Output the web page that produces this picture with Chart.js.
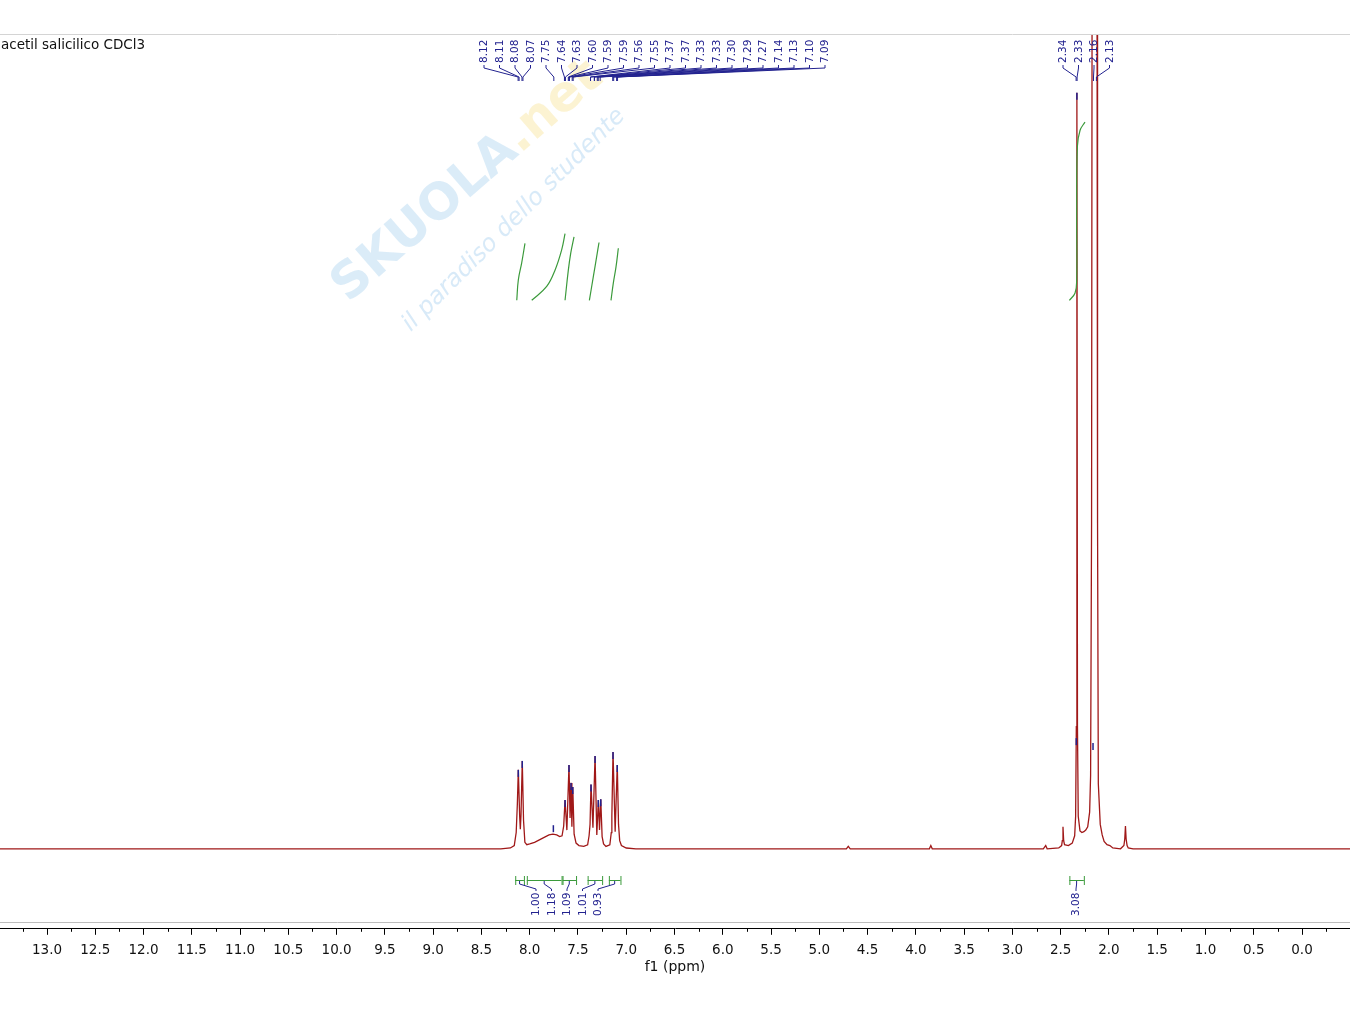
<!DOCTYPE html>
<html>
<head>
<meta charset="utf-8">
<title>acetil salicilico CDCl3</title>
<script src="https://cdn.jsdelivr.net/npm/chart.js@4.4.1/dist/chart.umd.min.js"></script>
<style>
  html, body { margin: 0; padding: 0; background: #fff; }
  #wrap { width: 1350px; height: 1013px; }
</style>
</head>
<body>
<div id="wrap"><canvas id="nmr" width="1350" height="1013"></canvas></div>
<script>
// 1H NMR spectrum - acetyl salicylic acid in CDCl3

// spectrum trace (ppm, intensity; baseline = 0, top of frame = 100)
const specPpm = [
  13.49, 8.30, 8.20, 8.16, 8.14, 8.128, 8.118, 8.104, 8.097, 8.090, 8.077, 8.064, 8.05, 8.03,
  8.00, 7.95, 7.90, 7.85, 7.80, 7.76, 7.72, 7.69, 7.665, 7.648, 7.634, 7.615, 7.593, 7.582,
  7.572, 7.563, 7.554, 7.540, 7.52, 7.49, 7.44, 7.40, 7.385, 7.375, 7.365, 7.345, 7.323, 7.305,
  7.289, 7.277, 7.264, 7.250, 7.235, 7.21, 7.17, 7.155, 7.149, 7.137, 7.115, 7.093, 7.080,
  7.068, 7.05, 7.00, 6.90, 6.50, 4.72, 4.70, 4.68, 3.86, 3.845, 3.83, 2.68, 2.655, 2.64,
  2.52, 2.49, 2.483, 2.476, 2.469, 2.46, 2.42, 2.38, 2.355, 2.345, 2.338, 2.332, 2.326,
  2.318, 2.30, 2.28, 2.26, 2.24, 2.22, 2.20, 2.19, 2.18, 2.175, 2.15, 2.123, 2.118, 2.11,
  2.09, 2.07, 2.05, 2.02, 1.99, 1.96, 1.88, 1.845, 1.836, 1.829, 1.822, 1.812, 1.80, 1.75,
  1.60, -0.50
];
const specInt = [
  0, 0, 0.1, 0.4, 2.0, 5.5, 9.7, 4.0, 2.4, 4.2, 10.8, 3.5, 0.8, 0.5,
  0.6, 0.8, 1.1, 1.4, 1.7, 1.8, 1.7, 1.5, 1.6, 2.8, 6.0, 2.3, 10.3, 3.8,
  8.1, 2.7, 7.6, 1.8, 0.7, 0.4, 0.3, 0.5, 1.6, 3.0, 7.9, 2.6, 11.4, 1.7,
  6.0, 2.3, 6.1, 1.5, 0.6, 0.3, 0.5, 2.0, 4.0, 11.9, 2.1, 10.3, 3.0,
  1.0, 0.4, 0.1, 0, 0, 0, 0.3, 0, 0, 0.4, 0, 0, 0.4, 0,
  0.1, 0.4, 1.0, 2.7, 1.0, 0.5, 0.4, 0.7, 1.6, 4.0, 15.0, 92.9, 15.0,
  4.0, 2.2, 2.0, 2.1, 2.3, 2.7, 4.5, 9.0, 40.0, 100.0, 600.0, 100.0, 40.0, 8.0,
  3.0, 1.7, 0.9, 0.5, 0.4, 0.1, 0, 0.4, 1.2, 2.8, 1.2, 0.4, 0.1, 0,
  0, 0
];

// picked peaks (labels at the top)
const peakListPpm = [
  8.12, 8.11, 8.08, 8.07, 7.75, 7.64, 7.63, 7.60, 7.59, 7.59, 7.56, 7.55,
  7.37, 7.37, 7.33, 7.33, 7.30, 7.29, 7.27, 7.14, 7.13, 7.10, 7.09,
  2.34, 2.33, 2.16, 2.13
];

// small peak-pick marks sitting on the peak tops
const peakMarkPpm = [8.118, 8.077, 7.755, 7.634, 7.593, 7.572, 7.554, 7.365, 7.323, 7.289, 7.264, 7.137, 7.093, 2.338, 2.332, 2.165];
const peakMarkInt = [9.7, 10.8, 2.9, 6.0, 10.3, 8.1, 7.6, 7.9, 11.4, 6.0, 6.1, 11.9, 10.3, 13.6, 92.9, 13.0];

// integration regions
const integralFrom = [8.15, 8.03, 7.66, 7.40, 7.18, 2.41];
const integralTo = [8.06, 7.67, 7.52, 7.25, 7.06, 2.26];
const integralValues = ['1.00', '1.18', '1.09', '1.01', '0.93', '3.08'];

// integral curves (green), ppm and height
const integralCurvePpm = [
  [8.134, 8.118, 8.083, 8.049],
  [7.979, 7.824, 7.738, 7.669, 7.634],
  [7.634, 7.600, 7.575, 7.541],
  [7.382, 7.341, 7.306, 7.282],
  [7.158, 7.134, 7.106, 7.082],
  [2.410, 2.351, 2.334, 2.334, 2.327, 2.299, 2.248]
];
const integralCurveInt = [
  [67.4, 69.9, 72.0, 74.4],
  [67.4, 69.1, 71.1, 73.6, 75.6],
  [67.4, 71.1, 73.2, 75.2],
  [67.4, 70.3, 72.8, 74.5],
  [67.4, 69.5, 71.5, 73.8],
  [67.4, 68.3, 69.9, 78.0, 86.3, 88.3, 89.3]
];

const axisMin = -0.497;
const axisMax = 13.487;

const RED = '#a01818';
const BLUE = '#22228f';
const GREEN = '#3b9a3b';
const FONT = '"DejaVu Sans", Verdana, sans-serif';

const spectrumData = specPpm.map((p, i) => ({ x: p, y: specInt[i] }));

const integralDatasets = integralCurvePpm.map((ppms, k) => ({
  label: 'integral ' + integralValues[k],
  data: ppms.map((p, i) => ({ x: p, y: integralCurveInt[k][i] })),
  borderColor: GREEN,
  borderWidth: 1.2,
  pointRadius: 0,
  showLine: true,
  tension: 0.4,
  order: 1
}));

const nmrDecor = {
  id: 'nmrDecor',
  beforeDatasetsDraw(chart) {
    const { ctx } = chart;

    // frame lines
    ctx.save();
    ctx.strokeStyle = '#d4d4d4';
    ctx.lineWidth = 1;
    ctx.beginPath();
    ctx.moveTo(0, 34.5); ctx.lineTo(1350, 34.5);
    ctx.stroke();
    ctx.strokeStyle = '#bdbdbd';
    ctx.beginPath();
    ctx.moveTo(0, 922.5); ctx.lineTo(1350, 922.5);
    ctx.stroke();
    ctx.restore();

    // watermark
    ctx.save();
    ctx.translate(468, 182);
    ctx.rotate(-41 * Math.PI / 180);
    ctx.textBaseline = 'middle';
    ctx.font = 'bold 50px ' + FONT;
    const w1 = ctx.measureText('SKUOLA').width;
    const w2 = ctx.measureText('.net').width;
    const sx = -(w1 + w2) / 2;
    ctx.fillStyle = 'rgba(190, 220, 243, 0.55)';
    ctx.fillText('SKUOLA', sx, 0);
    ctx.fillStyle = 'rgba(250, 232, 165, 0.5)';
    ctx.fillText('.net', sx + w1, 0);
    ctx.restore();

    ctx.save();
    ctx.translate(514, 220);
    ctx.rotate(-45 * Math.PI / 180);
    ctx.font = 'italic 24px ' + FONT;
    ctx.fillStyle = 'rgba(190, 220, 243, 0.6)';
    ctx.textAlign = 'center';
    ctx.textBaseline = 'middle';
    ctx.fillText('il paradiso dello studente', 0, 0);
    ctx.restore();
  },
  afterDatasetsDraw(chart) {
    const { ctx } = chart;
    const xs = chart.scales.x;
    const ys = chart.scales.y;

    // title
    ctx.save();
    ctx.font = '13.5px ' + FONT;
    ctx.fillStyle = '#111';
    ctx.textBaseline = 'middle';
    ctx.fillText('acetil salicilico CDCl3', 1, 45);
    ctx.restore();

    // peak-pick marks
    ctx.save();
    ctx.strokeStyle = BLUE;
    ctx.lineWidth = 1.5;
    peakMarkPpm.forEach((p, i) => {
      const px = xs.getPixelForValue(p);
      const py = ys.getPixelForValue(peakMarkInt[i]);
      ctx.beginPath();
      ctx.moveTo(px, Math.max(py, 36));
      ctx.lineTo(px, Math.max(py, 36) + 7);
      ctx.stroke();
    });
    ctx.restore();

    // peak labels with leaders
    const groups = [{ first: 0, count: 23, startX: 484 }, { first: 23, count: 4, startX: 1063 }];
    ctx.save();
    ctx.font = '10.5px ' + FONT;
    ctx.fillStyle = BLUE;
    ctx.strokeStyle = BLUE;
    ctx.lineWidth = 1;
    groups.forEach(g => {
      for (let j = 0; j < g.count; j++) {
        const p = peakListPpm[g.first + j];
        const lx = g.startX + j * 15.5;
        const px = xs.getPixelForValue(p);
        ctx.beginPath();
        ctx.moveTo(lx, 65);
        ctx.lineTo(lx, 68);
        ctx.lineTo(px, 77);
        ctx.lineTo(px, 81);
        ctx.stroke();
        ctx.save();
        ctx.translate(lx + 0.5, 63);
        ctx.rotate(-Math.PI / 2);
        ctx.textBaseline = 'middle';
        ctx.textAlign = 'left';
        ctx.fillText(p.toFixed(2), 0, 0);
        ctx.restore();
      }
    });
    ctx.restore();

    // integration brackets + values
    const labelX = [536, 551.5, 567, 582.5, 598, 1076];
    ctx.save();
    ctx.font = '10.5px ' + FONT;
    integralFrom.forEach((f, i) => {
      const x1 = xs.getPixelForValue(f);
      const x2 = xs.getPixelForValue(integralTo[i]);
      const cx = (x1 + x2) / 2;
      ctx.strokeStyle = GREEN;
      ctx.lineWidth = 1;
      ctx.beginPath();
      ctx.moveTo(x1, 880.5); ctx.lineTo(x2, 880.5);
      ctx.moveTo(x1 + 0.5, 876); ctx.lineTo(x1 + 0.5, 885);
      ctx.moveTo(x2 + 0.5, 876); ctx.lineTo(x2 + 0.5, 885);
      ctx.stroke();
      ctx.strokeStyle = BLUE;
      ctx.beginPath();
      ctx.moveTo(cx, 881);
      ctx.lineTo(cx, 884);
      ctx.lineTo(labelX[i], 889);
      ctx.lineTo(labelX[i], 891);
      ctx.stroke();
      ctx.save();
      ctx.fillStyle = BLUE;
      ctx.translate(labelX[i] + 0.5, 916);
      ctx.rotate(-Math.PI / 2);
      ctx.textBaseline = 'middle';
      ctx.fillText(integralValues[i], 0, 0);
      ctx.restore();
    });
    ctx.restore();
  },
  afterDraw(chart) {
    const { ctx } = chart;
    const xs = chart.scales.x;
    const bottom = chart.chartArea.bottom;

    // minor ticks on the ppm axis
    ctx.save();
    ctx.strokeStyle = '#000';
    ctx.lineWidth = 1;
    for (let v = -0.25; v <= 13.3; v += 0.5) {
      const px = Math.round(xs.getPixelForValue(v)) + 0.5;
      ctx.beginPath();
      ctx.moveTo(px, bottom);
      ctx.lineTo(px, bottom + 3);
      ctx.stroke();
    }

    // axis title
    ctx.font = '14px ' + FONT;
    ctx.fillStyle = '#111';
    ctx.textAlign = 'center';
    ctx.textBaseline = 'middle';
    ctx.fillText('f1 (ppm)', 675, 967);
    ctx.restore();
  }
};

const chart = new Chart(document.getElementById('nmr').getContext('2d'), {
  type: 'scatter',
  data: {
    datasets: integralDatasets.concat([{
      label: 'spectrum',
      data: spectrumData,
      borderColor: RED,
      borderWidth: 1.3,
      pointRadius: 0,
      showLine: true,
      tension: 0,
      order: 2
    }])
  },
  options: {
    responsive: false,
    animation: false,
    layout: { padding: { top: 35, bottom: 46, left: 0, right: 0 } },
    plugins: {
      legend: { display: false },
      tooltip: { enabled: false }
    },
    scales: {
      x: {
        type: 'linear',
        reverse: true,
        min: axisMin,
        max: axisMax,
        grid: { display: true, drawOnChartArea: false, drawTicks: true, tickLength: 6, color: '#000' },
        border: { display: true, color: '#000', width: 1 },
        ticks: {
          stepSize: 0.5,
          includeBounds: false,
          autoSkip: false,
          maxRotation: 0,
          padding: 8,
          color: '#111',
          font: { family: FONT, size: 13.5 },
          callback: v => v.toFixed(1)
        },
        title: { display: false }
      },
      y: {
        display: false,
        min: -9.83,
        max: 100
      }
    }
  },
  plugins: [nmrDecor]
});
</script>
</body>
</html>
